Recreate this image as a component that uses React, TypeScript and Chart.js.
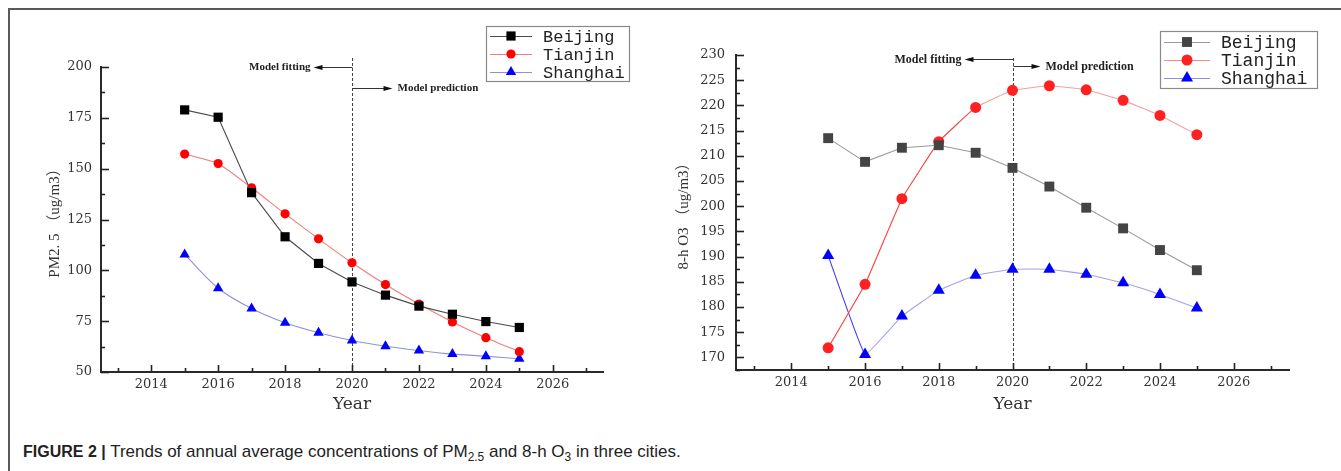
import React, { useEffect, useRef } from "react";
import { Chart, registerables } from "chart.js";

Chart.register(...registerables);

// ---------- data ----------
const years = [2015, 2016, 2017, 2018, 2019, 2020, 2021, 2022, 2023, 2024, 2025];
const cities = ["Beijing", "Tianjin", "Shanghai"];

const pm25Beijing = [178.9, 175.3, 138.2, 116.5, 103.4, 94.3, 87.8, 82.4, 78.4, 74.8, 71.9];
const pm25Tianjin = [157.2, 152.5, 140.6, 127.8, 115.5, 103.7, 93.0, 83.4, 74.6, 66.9, 60.0];
const pm25Shanghai = [107.8, 91.2, 81.2, 74.2, 69.3, 65.5, 62.7, 60.6, 58.8, 57.8, 56.5];

const o3Beijing = [213.5, 208.8, 211.6, 212.1, 210.6, 207.6, 203.9, 199.7, 195.6, 191.3, 187.3];
const o3Tianjin = [171.9, 184.5, 201.5, 212.8, 219.6, 223.0, 223.9, 223.1, 221.0, 218.0, 214.2];
const o3Shanghai = [190.2, 170.6, 178.2, 183.3, 186.3, 187.5, 187.5, 186.5, 184.8, 182.5, 179.8];

const xTickValues = [2013, 2014, 2015, 2016, 2017, 2018, 2019, 2020, 2021, 2022, 2023, 2024, 2025, 2026, 2027];
const xLabelYears = [2014, 2016, 2018, 2020, 2022, 2024, 2026];

const pmTickValues = [50, 62.5, 75, 87.5, 100, 112.5, 125, 137.5, 150, 162.5, 175, 187.5, 200];
const pmLabelValues = [50, 75, 100, 125, 150, 175, 200];

const o3TickValues = [167.5, 170, 172.5, 175, 177.5, 180, 182.5, 185, 187.5, 190, 192.5, 195, 197.5, 200, 202.5, 205, 207.5, 210, 212.5, 215, 217.5, 220, 222.5, 225, 227.5, 230];
const o3LabelValues = [170, 175, 180, 185, 190, 195, 200, 205, 210, 215, 220, 225, 230];

const splitYear = 2020;
const fittingLabel = "Model fitting";
const predictionLabel = "Model prediction";
const xTitle = "Year";
const pmTitle = "PM2. 5 （ug/m3）";
const o3Title = "8-h O3 （ug/m3）";

// ---------- plugins ----------
function drawMarker(ctx: CanvasRenderingContext2D, style: string, x: number, y: number, r: number, color: string) {
  ctx.save();
  ctx.fillStyle = color;
  ctx.beginPath();
  if (style === "rect") {
    const s = Math.SQRT1_2 * r;
    ctx.rect(x - s, y - s, 2 * s, 2 * s);
  } else if (style === "triangle") {
    let a = 0;
    ctx.moveTo(x + Math.sin(a) * r, y - Math.cos(a) * r);
    a += (2 * Math.PI) / 3;
    ctx.lineTo(x + Math.sin(a) * r, y - Math.cos(a) * r);
    a += (2 * Math.PI) / 3;
    ctx.lineTo(x + Math.sin(a) * r, y - Math.cos(a) * r);
    ctx.closePath();
  } else {
    ctx.arc(x, y, r, 0, Math.PI * 2);
  }
  ctx.fill();
  ctx.restore();
}

const innerTicksPlugin = {
  id: "innerTicks",
  afterDraw(chart: any, _args: any, opts: any) {
    const { ctx, chartArea, scales } = chart;
    ctx.save();
    ctx.strokeStyle = "#222";
    ctx.lineWidth = 1.6;
    scales.x.ticks.forEach((t: any) => {
      const px = Math.round(scales.x.getPixelForValue(t.value)) + 0.5;
      const len = xLabelYears.includes(t.value) ? 7 : 4;
      ctx.beginPath();
      ctx.moveTo(px, chartArea.bottom);
      ctx.lineTo(px, chartArea.bottom - len);
      ctx.stroke();
    });
    scales.y.ticks.forEach((t: any) => {
      const py = Math.round(scales.y.getPixelForValue(t.value)) + 0.5;
      const len = opts.majors.includes(t.value) ? 8 : 4;
      ctx.beginPath();
      ctx.moveTo(chartArea.left, py);
      ctx.lineTo(chartArea.left + len, py);
      ctx.stroke();
    });
    ctx.restore();
  },
};

const notesPlugin = {
  id: "modelNotes",
  beforeDatasetsDraw(chart: any, _args: any, o: any) {
    const { ctx, chartArea, scales } = chart;
    const x0 = Math.round(scales.x.getPixelForValue(splitYear)) + 0.5;
    ctx.save();
    ctx.strokeStyle = "#444";
    ctx.lineWidth = 1;
    ctx.setLineDash([3, 2]);
    ctx.beginPath();
    ctx.moveTo(x0, chartArea.top + o.dashTop);
    ctx.lineTo(x0, chartArea.bottom);
    ctx.stroke();
    ctx.setLineDash([]);
    ctx.strokeStyle = "#333";
    ctx.fillStyle = "#111";
    const fy = Math.round(chartArea.top + o.fitY) + 0.5;
    const ftip = x0 - o.fitLen;
    ctx.beginPath();
    ctx.moveTo(x0, fy);
    ctx.lineTo(ftip + 6, fy);
    ctx.stroke();
    ctx.beginPath();
    ctx.moveTo(ftip, fy);
    ctx.lineTo(ftip + 9, fy - 2.5);
    ctx.lineTo(ftip + 9, fy + 2.5);
    ctx.closePath();
    ctx.fill();
    const py = Math.round(chartArea.top + o.predY) + 0.5;
    const ptip = x0 + o.predLen;
    ctx.beginPath();
    ctx.moveTo(x0, py);
    ctx.lineTo(ptip - 6, py);
    ctx.stroke();
    ctx.beginPath();
    ctx.moveTo(ptip, py);
    ctx.lineTo(ptip - 9, py - 2.5);
    ctx.lineTo(ptip - 9, py + 2.5);
    ctx.closePath();
    ctx.fill();
    ctx.font = `bold ${o.fontSize}px "Liberation Serif", serif`;
    ctx.fillStyle = "#222";
    ctx.textBaseline = "middle";
    ctx.textAlign = "right";
    ctx.fillText(fittingLabel, ftip - 3, fy);
    ctx.textAlign = "left";
    ctx.fillText(predictionLabel, ptip + 5, py);
    ctx.restore();
  },
};

const boxLegendPlugin = {
  id: "boxLegend",
  afterDraw(chart: any, _args: any, o: any) {
    const { ctx } = chart;
    ctx.save();
    ctx.fillStyle = "#fff";
    ctx.fillRect(o.x, o.y, o.w, o.h);
    ctx.strokeStyle = "#8a8a8a";
    ctx.lineWidth = 1.2;
    ctx.strokeRect(o.x + 0.5, o.y + 0.5, o.w, o.h);
    chart.data.datasets.forEach((ds: any, i: number) => {
      const ry = o.rows[i];
      const lc = typeof ds.legendLine === "string" ? ds.legendLine : ds.borderColor;
      ctx.strokeStyle = lc;
      ctx.lineWidth = 1.2;
      ctx.beginPath();
      ctx.moveTo(o.lineX0, ry + 0.5);
      ctx.lineTo(o.lineX1, ry + 0.5);
      ctx.stroke();
      drawMarker(ctx, ds.pointStyle, (o.lineX0 + o.lineX1) / 2, ry, ds.pointRadius, ds.pointBackgroundColor);
      ctx.fillStyle = "#222";
      ctx.font = `${o.fontSize}px "Liberation Mono", monospace`;
      ctx.textBaseline = "middle";
      ctx.textAlign = "left";
      ctx.fillText(ds.label, o.textX, ry + 1);
    });
    ctx.restore();
  },
};

// ---------- chart builder ----------
function buildConfig(p: any) {
  return {
    type: "line",
    data: {
      datasets: p.datasets,
    },
    plugins: [notesPlugin, innerTicksPlugin, boxLegendPlugin],
    options: {
      responsive: false,
      animation: false,
      devicePixelRatio: 1,
      layout: { padding: p.padding },
      plugins: {
        legend: { display: false },
        tooltip: { enabled: false },
        title: { display: false },
        modelNotes: p.notes,
        innerTicks: { majors: p.yLabels },
        boxLegend: p.legend,
      },
      scales: {
        x: {
          type: "linear",
          min: 2012.5,
          max: 2027.5,
          afterBuildTicks: (s: any) => {
            s.ticks = xTickValues.map((v) => ({ value: v }));
          },
          afterFit: (s: any) => {
            s.height = p.xHeight;
          },
          grid: { display: false, drawTicks: false },
          border: { display: true, color: "#2a2a2a", width: 2 },
          ticks: {
            autoSkip: false,
            maxRotation: 0,
            padding: 5,
            color: "#333",
            font: { family: '"DejaVu Serif", serif', size: 13 },
            callback: (v: any) => (xLabelYears.includes(v) ? String(v) : ""),
          },
          title: {
            display: true,
            text: xTitle,
            color: "#333",
            padding: 0,
            font: { family: '"DejaVu Serif", serif', size: 17 },
          },
        },
        y: {
          type: "linear",
          min: p.yMin,
          max: p.yMax,
          afterBuildTicks: (s: any) => {
            s.ticks = p.yTicks.map((v: number) => ({ value: v }));
          },
          afterFit: (s: any) => {
            s.width = p.yWidth;
          },
          grid: { display: false, drawTicks: false },
          border: { display: true, color: "#2a2a2a", width: 2 },
          ticks: {
            autoSkip: false,
            padding: p.yPad,
            color: "#333",
            font: { family: '"DejaVu Serif", serif', size: 13 },
            callback: (v: any) => (p.yLabels.includes(v) ? String(v) : ""),
          },
          title: {
            display: true,
            text: p.yTitle,
            color: "#333",
            padding: 0,
            font: { family: '"Liberation Serif", "Noto Sans CJK SC", serif', size: 15 },
          },
        },
      },
    },
  };
}

function series(label: string, values: number[], s: any) {
  return {
    label,
    data: years.map((y, i) => ({ x: y, y: values[i] })),
    borderWidth: 1.1,
    pointBorderWidth: 0,
    pointBorderColor: s.pointBackgroundColor,
    ...s,
  };
}

const leftDatasets = () => [
  series(cities[0], pm25Beijing, { borderColor: "#4a4a4a", pointBackgroundColor: "#000000", pointStyle: "rect", pointRadius: 6.5, tension: 0 }),
  series(cities[1], pm25Tianjin, { borderColor: "#f07c7c", pointBackgroundColor: "#ff0000", pointStyle: "circle", pointRadius: 4.6, tension: 0.15 }),
  series(cities[2], pm25Shanghai, { borderColor: "#8f8fe0", pointBackgroundColor: "#0000ff", pointStyle: "triangle", pointRadius: 6, tension: 0.3 }),
];

const rightDatasets = () => [
  series(cities[0], o3Beijing, { borderColor: "#9a9a9a", pointBackgroundColor: "#444444", pointStyle: "rect", pointRadius: 7, tension: 0 }),
  series(cities[1], o3Tianjin, {
    borderColor: "#ff3c3c",
    legendLine: "#f08c8c",
    segment: { borderColor: (c: any) => (c.p0DataIndex < 4 ? "#ff3c3c" : "#f3a0a0") },
    pointBackgroundColor: "#ff2020",
    pointStyle: "circle",
    pointRadius: 5.5,
    tension: 0.08,
  }),
  series(cities[2], o3Shanghai, {
    borderColor: "#3a3aff",
    legendLine: "#8f8fe0",
    segment: { borderColor: (c: any) => (c.p0DataIndex < 1 ? "#3a3aff" : "#a2a2e6") },
    pointBackgroundColor: "#0000ff",
    pointStyle: "triangle",
    pointRadius: 7,
    tension: 0.08,
  }),
];

export default function App() {
  const leftRef = useRef<HTMLCanvasElement>(null);
  const rightRef = useRef<HTMLCanvasElement>(null);

  useEffect(() => {
    const left = new Chart(
      leftRef.current as HTMLCanvasElement,
      buildConfig({
        datasets: leftDatasets(),
        padding: { left: 46, right: 67, top: 67, bottom: 15 },
        yWidth: 55,
        xHeight: 43,
        yPad: 9,
        yMin: 50,
        yMax: 200,
        yTicks: pmTickValues,
        yLabels: pmLabelValues,
        yTitle: pmTitle,
        notes: { dashTop: -9, fitY: 0, predY: 21, fitLen: 39, predLen: 40, fontSize: 11 },
        legend: { x: 486, y: 26, w: 143, h: 55, rows: [36, 54, 72], lineX0: 490, lineX1: 532, textX: 543, fontSize: 17 },
      }) as any
    );
    const right = new Chart(
      rightRef.current as HTMLCanvasElement,
      buildConfig({
        datasets: rightDatasets(),
        padding: { left: 5, right: 52, top: 55, bottom: 15 },
        yWidth: 61,
        xHeight: 45,
        yPad: 11,
        yMin: 167.5,
        yMax: 230,
        yTicks: o3TickValues,
        yLabels: o3LabelValues,
        yTitle: o3Title,
        notes: { dashTop: 3, fitY: 4.3, predY: 10.7, fitLen: 49, predLen: 27, fontSize: 12 },
        legend: { x: 490, y: 31, w: 157, h: 57, rows: [42, 60, 78], lineX0: 494, lineX1: 540, textX: 551, fontSize: 18 },
      }) as any
    );
    return () => {
      left.destroy();
      right.destroy();
    };
  }, []);

  return (
    <div style={{ position: "fixed", left: 0, top: 0, width: 1341, height: 471, overflow: "hidden", background: "#fff" }}>
      <div
        style={{
          position: "absolute",
          left: 8,
          top: 8,
          width: 1341,
          height: 471,
          borderTop: "2px solid #5a5a5a",
          borderLeft: "2px solid #5a5a5a",
        }}
      />
      <canvas ref={leftRef} width={670} height={430} style={{ position: "absolute", left: 0, top: 0, width: 670, height: 430 }} />
      <canvas ref={rightRef} width={671} height={430} style={{ position: "absolute", left: 670, top: 0, width: 671, height: 430 }} />
      <div
        style={{
          position: "absolute",
          left: 23,
          top: 442,
          whiteSpace: "nowrap",
          fontFamily: '"Liberation Sans", Arial, sans-serif',
          fontSize: 17,
          color: "#222",
        }}
      >
        <b style={{ fontSize: 16 }}>FIGURE 2 | </b>Trends of annual average concentrations of PM<sub style={{ fontSize: "0.7em" }}>2.5</sub> and 8-h O
        <sub style={{ fontSize: "0.7em" }}>3</sub> in three cities.
      </div>
    </div>
  );
}
